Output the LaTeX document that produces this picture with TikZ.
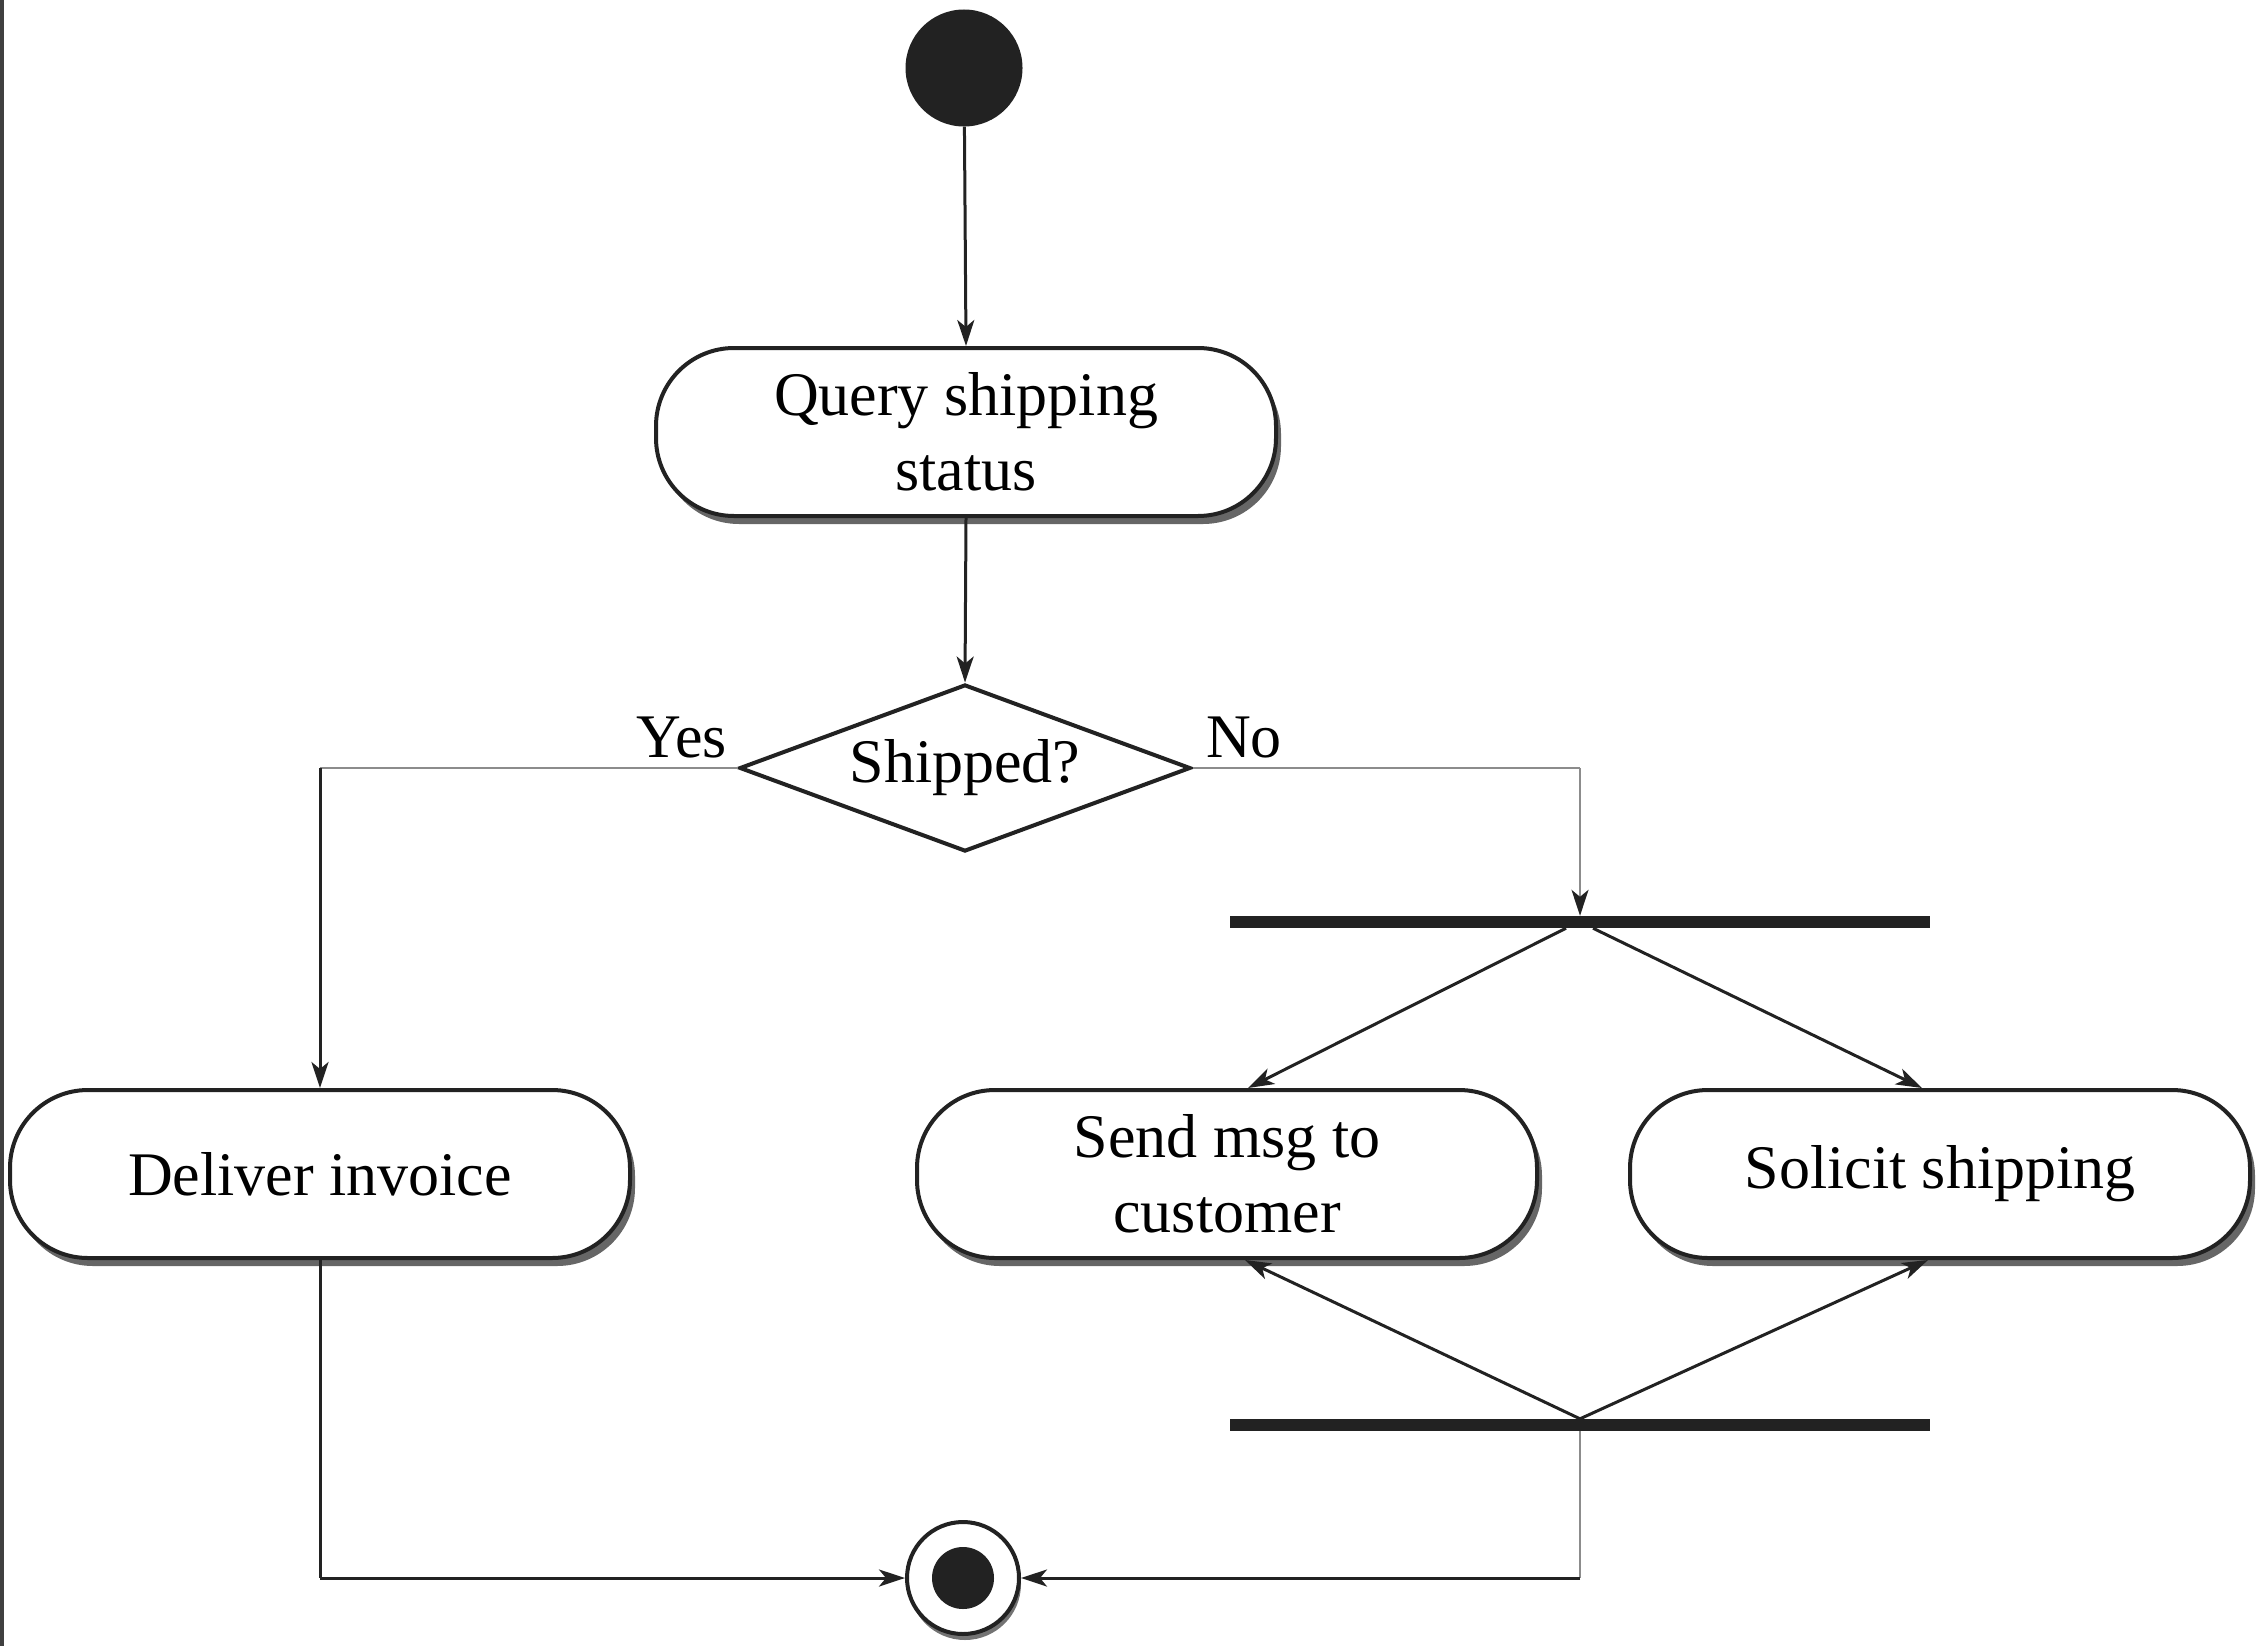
\documentclass[tikz,border=0pt]{standalone}
\usepackage{fontspec}
\setmainfont{Liberation Serif}
\usetikzlibrary{shapes.geometric,arrows.meta,shadows}
\definecolor{ink}{HTML}{222222}
\tikzset{
  actbox/.style={draw=ink, line width=4pt, fill=white, rounded corners=78pt,
    minimum width=620pt, minimum height=168pt, align=center, inner sep=0pt,
    font=\fontsize{62}{75}\selectfont,
    drop shadow={shadow xshift=5pt, shadow yshift=-8pt, fill=black, opacity=0.6}},
  decision/.style={draw=ink, line width=4pt, fill=white, shape=diamond, aspect=2.7,
    minimum width=451pt, minimum height=167pt, inner sep=0pt,
    font=\fontsize{62}{75}\selectfont},
  syncbar/.style={fill=ink, minimum width=700pt, minimum height=12pt, inner sep=0pt},
  lbl/.style={font=\fontsize{62}{75}\selectfont, anchor=base, inner sep=0pt},
  flow/.style={draw=ink, line width=3pt, -{Stealth[length=26pt,width=17pt,inset=7pt,color=ink]}},
  plain/.style={draw=ink, line width=3pt},
  faint/.style={draw=black!45, line width=2pt},
  faintarrow/.style={draw=black!45, line width=2pt, -{Stealth[length=26pt,width=17pt,inset=7pt,color=ink]}},
}
\begin{document}
\begin{tikzpicture}[x=1pt,y=-1pt]
\useasboundingbox (0,0) rectangle (2264,1646);
\fill[white] (0,0) rectangle (2264,1646);
\draw[line width=4pt, black!75] (2,0) -- (2,1646);

\node[circle, fill=ink, minimum size=117pt, inner sep=0pt] (start) at (964,68) {};
\node[actbox] (query) at (966,432) {Query shipping\\status};
\node[decision] (dec) at (965,768) {Shipped?};
\node[lbl] (yes) at (682,757) {Yes};
\node[lbl] (no) at (1244,757) {No};

\node[actbox] (deliver) at (320,1174) {Deliver invoice};
\node[actbox] (send) at (1227,1174) {Send msg to\\customer};
\node[actbox] (solicit) at (1940,1174) {Solicit shipping};

\node[syncbar] (fork) at (1580,922) {};
\node[syncbar] (join) at (1580,1425) {};

\node[circle, draw=ink, line width=4pt, fill=white, minimum size=112pt, inner sep=0pt,
  drop shadow={shadow xshift=2pt, shadow yshift=-6pt, fill=black, opacity=0.55}] (final) at (963,1578) {};
\fill[ink] (final.center) circle (31pt);

\coordinate (yc) at (320,768);
\coordinate (nc) at (1580,768);
\coordinate (dc) at (320,1578);
\coordinate (jc) at (1580,1578);

\draw[flow] (start) -- (query.north);
\draw[flow] (query.south) -- (dec.north);
\draw[faint] (dec.west) -- (yc);
\draw[flow] (yc) -- (deliver.north);
\draw[faint] (dec.east) -- (nc);
\draw[faintarrow] (nc) -- (fork.north);

\draw[flow] ([xshift=-14pt]fork.south) -- ([xshift=21pt]send.north);
\draw[flow] ([xshift=13pt]fork.south) -- ([xshift=-18pt]solicit.north);
\draw[flow] (join.north) -- ([xshift=18pt]send.south);
\draw[flow] (join.north) -- ([xshift=-12pt]solicit.south);

\draw[plain] (deliver.south) -- (dc);
\draw[flow] (dc) -- (final.west);
\draw[faint] (join.south) -- (jc);
\draw[flow] (jc) -- (final.east);
\end{tikzpicture}
\end{document}
